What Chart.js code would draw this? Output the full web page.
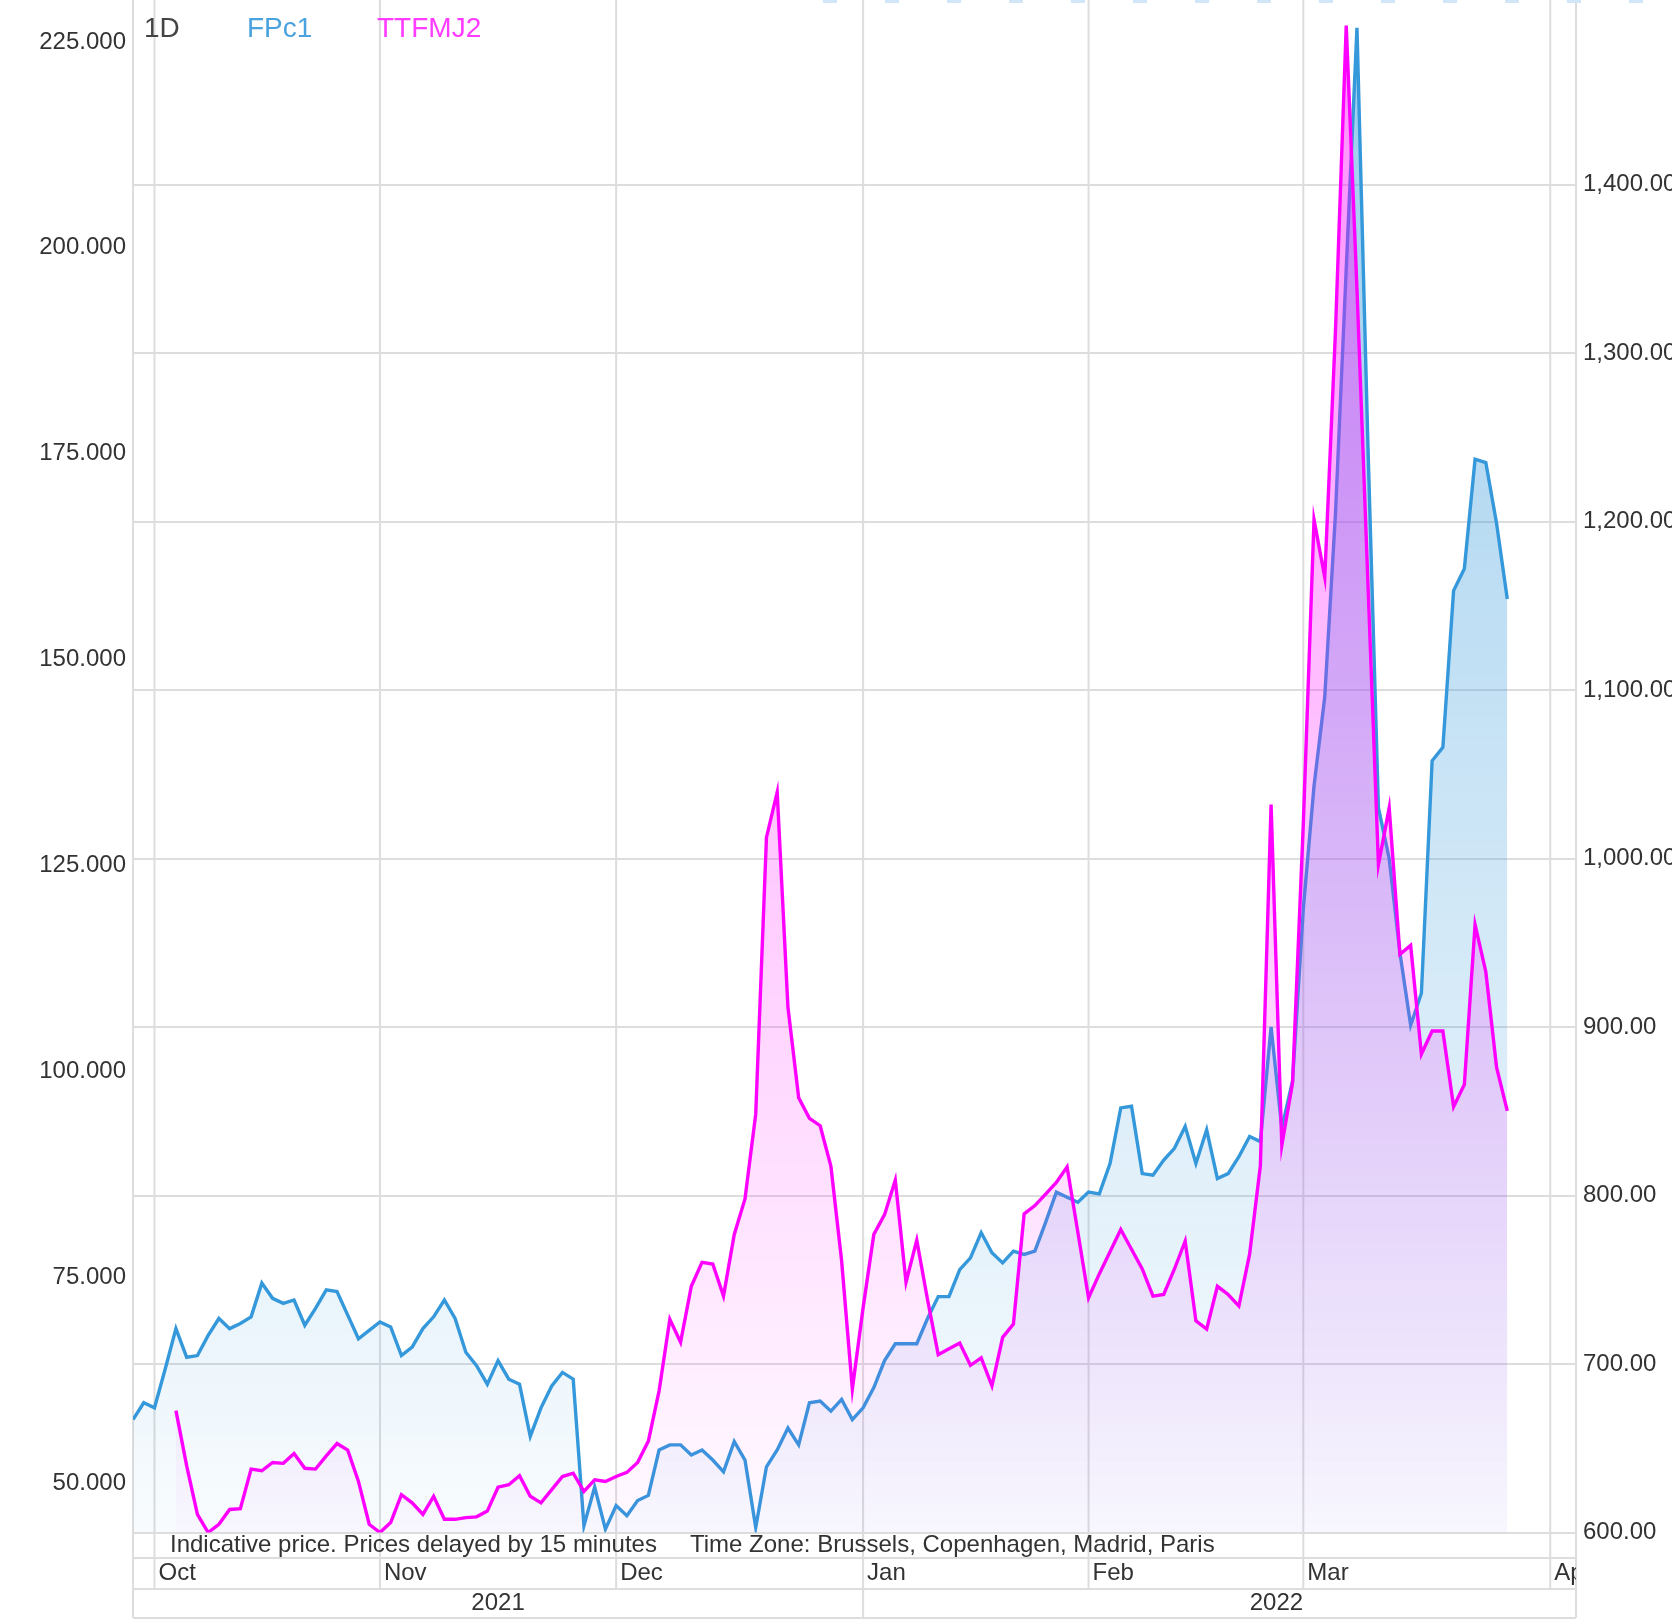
<!DOCTYPE html>
<html>
<head>
<meta charset="utf-8">
<title>FPc1 / TTFMJ2</title>
<script src="https://cdn.jsdelivr.net/npm/chart.js@4.4.1/dist/chart.umd.min.js"></script>
<style>
  html, body { margin: 0; padding: 0; background: #fff; }
  #wrap { width: 1672px; height: 1621px; }
</style>
</head>
<body>
<div id="wrap"><canvas id="chart" width="1672" height="1621"></canvas></div>
<script>
// daily closes, one entry per trading day starting 29 Sep 2021
const fpc1 = [
    667, 677, 674, 697, 721, 704, 705, 717, 727, 721,
    724, 728, 748, 739, 736, 738, 723, 733, 744, 743,
    729, 715, 720, 725, 722, 705, 710, 721, 728, 738,
    727, 707, 699, 688, 702, 691, 688, 657, 674, 687,
    695, 691, 604, 627, 602, 616, 610, 619, 622, 649,
    652, 652, 646, 649, 643, 636, 654, 643, 603, 639,
    649, 662, 652, 677, 678, 672, 679, 667, 674, 686,
    702, 712, 712, 712, 727, 740, 740, 756, 763, 778,
    766, 760, 767, 765, 767, 784, 802, 799, 796, 802,
    801, 819, 852, 853, 813, 812, 821, 828, 841, 819,
    839, 810, 813, 823, 835, 832, 900, 840, 868, 970,
    1043, 1096, 1205, 1350, 1493, 1250, 1030, 1000, 944, 901,
    920, 1058, 1066, 1159, 1172, 1237, 1235, 1199, 1154
];

// TTFMJ2 only shows up from the 5th trading day
const ttfStart = 4;
const ttfmj2 = [
    58.8, 52.1, 46.2, 44.0, 45.0, 46.8, 46.9, 51.7, 51.5, 52.5,
    52.4, 53.6, 51.8, 51.7, 53.3, 54.8, 54.0, 50.2, 45.0, 44.0,
    45.2, 48.6, 47.6, 46.2, 48.4, 45.6, 45.6, 45.8, 45.9, 46.6,
    49.5, 49.8, 50.9, 48.4, 47.6, 49.2, 50.8, 51.2, 49.0, 50.4,
    50.2, 50.8, 51.3, 52.5, 55.1, 61.2, 69.9, 67.1, 73.9, 76.8,
    76.6, 72.7, 80.2, 84.5, 94.8, 128.4, 133.9, 107.8, 96.8, 94.3,
    93.4, 88.5, 77.0, 61.4, 71.3, 80.2, 82.6, 86.8, 74.4, 79.5,
    72.3, 65.6, 66.3, 67.0, 64.3, 65.2, 61.8, 67.7, 69.3, 82.7,
    83.7, 85.1, 86.5, 88.4, 80.5, 72.5, 75.4, 78.1, 80.8, 78.4,
    76.0, 72.7, 72.9, 76.0, 79.4, 69.7, 68.7, 73.9, 72.9, 71.5,
    77.8, 88.5, 132.4, 91.0, 98.6, 130, 167, 160, 190, 227,
    195, 160, 125.1, 132.0, 114.2, 115.3, 102.1, 104.9, 104.9, 95.7,
    98.4, 117.8, 112.1, 100.5, 95.2
];

// first trading day of each month (index into the day list)
const monthNames = ['Oct', 'Nov', 'Dec', 'Jan', 'Feb', 'Mar', 'Apr'];
const monthStarts = [2, 23, 45, 68, 89, 109, 132];
const yearNames = ['2021', '2022'];
const yearCenters = [34, 106.5];

const leftTicks = [50, 75, 100, 125, 150, 175, 200, 225];
const rightTicks = [600, 700, 800, 900, 1000, 1100, 1200, 1300, 1400];

const FONT = '"Liberation Sans", Arial, sans-serif';
const GRID = '#dddddd';
const TEXT = '#333333';

function fade(chart, rgb, top, bottom) {
    const area = chart.chartArea;
    if (!area) {
        return 'rgba(' + rgb + ',' + top + ')';
    }
    const g = chart.ctx.createLinearGradient(0, area.top, 0, area.bottom);
    g.addColorStop(0, 'rgba(' + rgb + ',' + top + ')');
    g.addColorStop(1, 'rgba(' + rgb + ',' + bottom + ')');
    return g;
}

// frame, month grid and the footer rows under the plot
const frame = {
    id: 'frame',
    beforeDatasetsDraw: function(chart) {
        const ctx = chart.ctx;
        const x = chart.scales.x;
        const a = chart.chartArea;
        const noteBottom = a.bottom + 25.5;
        const monthBottom = a.bottom + 56.5;
        const yearBottom = a.bottom + 85.5;

        ctx.save();
        ctx.strokeStyle = GRID;
        ctx.lineWidth = 2;
        ctx.beginPath();
        monthStarts.forEach(function(m) {
            const px = x.getPixelForValue(m);
            ctx.moveTo(px, 0);
            ctx.lineTo(px, monthBottom);
        });
        [a.left, a.right].forEach(function(px) {
            ctx.moveTo(px, 0);
            ctx.lineTo(px, yearBottom);
        });
        const jan = x.getPixelForValue(monthStarts[3]);
        ctx.moveTo(jan, monthBottom);
        ctx.lineTo(jan, yearBottom);
        [noteBottom, monthBottom, yearBottom].forEach(function(py) {
            ctx.moveTo(a.left, py);
            ctx.lineTo(a.right, py);
        });
        ctx.stroke();

        // dotted edge of the toolbar above the chart
        ctx.strokeStyle = '#d2e6f7';
        ctx.lineWidth = 3;
        ctx.setLineDash([14, 48]);
        ctx.beginPath();
        ctx.moveTo(823, 1.5);
        ctx.lineTo(chart.width, 1.5);
        ctx.stroke();
        ctx.restore();
    },
    afterDraw: function(chart) {
        const ctx = chart.ctx;
        const x = chart.scales.x;
        const a = chart.chartArea;

        ctx.save();
        ctx.textBaseline = 'middle';
        ctx.textAlign = 'left';
        ctx.fillStyle = TEXT;
        ctx.font = '24px ' + FONT;
        ctx.fillText('Indicative price. Prices delayed by 15 minutes', a.left + 37, a.bottom + 13);
        ctx.fillText('Time Zone: Brussels, Copenhagen, Madrid, Paris', 690, a.bottom + 13);

        ctx.save();
        ctx.beginPath();
        ctx.rect(a.left, a.bottom, a.right - a.left, 100);
        ctx.clip();
        monthNames.forEach(function(m, k) {
            ctx.fillText(m, x.getPixelForValue(monthStarts[k]) + 4, a.bottom + 41);
        });
        ctx.textAlign = 'center';
        yearNames.forEach(function(y, k) {
            ctx.fillText(y, x.getPixelForValue(yearCenters[k]), a.bottom + 71);
        });
        ctx.restore();

        // legend strip
        ctx.font = '28px ' + FONT;
        ctx.fillStyle = '#444444';
        ctx.fillText('1D', 144, 29);
        ctx.fillStyle = '#4aa3df';
        ctx.fillText('FPc1', 247, 29);
        ctx.fillStyle = '#ff3cff';
        ctx.fillText('TTFMJ2', 377, 29);
        ctx.restore();
    }
};

const ctx = document.getElementById('chart');

new Chart(ctx, {
    type: 'line',
    data: {
        datasets: [{
            label: 'TTFMJ2',
            data: ttfmj2.map(function(v, i) { return { x: i + ttfStart, y: v }; }),
            yAxisID: 'yL',
            borderColor: '#ff00ff',
            borderWidth: 3.4,
            pointRadius: 0,
            tension: 0,
            fill: 'start',
            backgroundColor: function(c) { return fade(c.chart, '255,0,255', 0.45, 0.02); },
            order: 1
        }, {
            label: 'FPc1',
            data: fpc1.map(function(v, i) { return { x: i, y: v }; }),
            yAxisID: 'yR',
            borderColor: '#3498db',
            borderWidth: 3.4,
            pointRadius: 0,
            tension: 0,
            fill: 'start',
            backgroundColor: function(c) { return fade(c.chart, '52,152,219', 0.5, 0.035); },
            order: 2
        }]
    },
    options: {
        responsive: false,
        devicePixelRatio: 1,
        animation: false,
        layout: {
            padding: { top: 0, left: 0, right: 0, bottom: 88.5 }
        },
        plugins: {
            legend: { display: false },
            tooltip: { enabled: false }
        },
        scales: {
            x: {
                type: 'linear',
                min: 0,
                max: 134.4,
                display: false
            },
            yL: {
                type: 'linear',
                position: 'left',
                min: 44.0,
                max: 230.1,
                afterBuildTicks: function(s) {
                    s.ticks = leftTicks.map(function(v) { return { value: v }; });
                },
                afterFit: function(s) {
                    s.width = 133;
                    s.paddingTop = 0;
                    s.paddingBottom = 0;
                },
                grid: { display: false, drawTicks: false },
                border: { display: false },
                ticks: {
                    padding: 7,
                    color: TEXT,
                    font: { family: FONT, size: 24 },
                    callback: function(v) { return v.toFixed(3); }
                }
            },
            yR: {
                type: 'linear',
                position: 'right',
                min: 600,
                max: 1509.5,
                afterBuildTicks: function(s) {
                    s.ticks = rightTicks.map(function(v) { return { value: v }; });
                },
                afterFit: function(s) {
                    s.width = 96;
                    s.paddingTop = 0;
                    s.paddingBottom = 0;
                },
                grid: { color: GRID, lineWidth: 2, drawTicks: false },
                border: { display: false },
                ticks: {
                    padding: 7,
                    color: TEXT,
                    font: { family: FONT, size: 24 },
                    callback: function(v) {
                        return v.toLocaleString('en-US', { minimumFractionDigits: 2, maximumFractionDigits: 2 });
                    }
                }
            }
        }
    },
    plugins: [frame]
});
</script>
</body>
</html>
